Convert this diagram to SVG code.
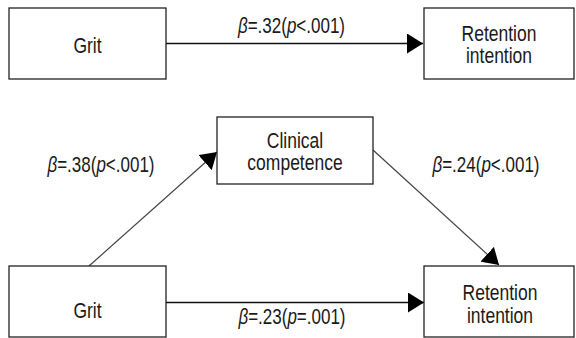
<svg xmlns="http://www.w3.org/2000/svg" width="576" height="338" viewBox="0 0 576 338">
<style>
.box{fill:#fff;stroke:#222;stroke-width:1.3}
.t{font-family:"Liberation Sans",Arial,sans-serif;font-size:17.5px;fill:#1a1a1a;text-anchor:middle}
.lab{font-family:"Liberation Sans",Arial,sans-serif;font-size:17px;fill:#1a1a1a;text-anchor:middle}
.i{font-style:italic}
.h{stroke:#111;stroke-width:1.6;fill:none}
.d{stroke:#444;stroke-width:1.2;fill:none}
</style>
<defs>
<marker id="ah" markerUnits="userSpaceOnUse" markerWidth="17" markerHeight="20" refX="16" refY="10" orient="auto" viewBox="0 0 17 20">
<path d="M0,0 L16,10 L0,20 z" fill="#000"/>
</marker>
</defs>
<rect width="576" height="338" fill="#fff"/>
<g id="connectors">
<line class="h" x1="166" y1="43.5" x2="423" y2="43.5" marker-end="url(#ah)"/>
<line class="d" x1="89" y1="266" x2="217" y2="152" marker-end="url(#ah)"/>
<line class="d" x1="373" y1="150" x2="499" y2="265" marker-end="url(#ah)"/>
<line class="h" x1="166" y1="302.5" x2="424" y2="302.5" marker-end="url(#ah)"/>
<text class="lab" transform="translate(291.5,33) scale(1,1.25)"><tspan class="i">β</tspan>=.32(<tspan class="i">p</tspan>&lt;.001)</text>
<text class="lab" transform="translate(101,171.5) scale(1,1.25)"><tspan class="i">β</tspan>=.38(<tspan class="i">p</tspan>&lt;.001)</text>
<text class="lab" transform="translate(486,171.5) scale(1,1.25)"><tspan class="i">β</tspan>=.24(<tspan class="i">p</tspan>&lt;.001)</text>
<text class="lab" transform="translate(292,323.5) scale(1,1.25)"><tspan class="i">β</tspan>=.23(<tspan class="i">p</tspan>=.001)</text>
</g>
<g id="grit-top">
<rect class="box" x="9" y="8" width="157" height="71"/>
<text class="t" transform="translate(87.5,53) scale(1,1.25)">Grit</text>
</g>
<g id="retention-top">
<rect class="box" x="424" y="8" width="150" height="71"/>
<text class="t" transform="translate(499,41) scale(1,1.25)">Retention</text>
<text class="t" transform="translate(499,63) scale(1,1.25)">intention</text>
</g>
<g id="clinical">
<rect class="box" x="217" y="117" width="156" height="67"/>
<text class="t" transform="translate(295,148) scale(1,1.25)">Clinical</text>
<text class="t" transform="translate(295,170) scale(1,1.25)">competence</text>
</g>
<g id="grit-bottom">
<rect class="box" x="9" y="266" width="157" height="71"/>
<text class="t" transform="translate(87.5,318) scale(1,1.25)">Grit</text>
</g>
<g id="retention-bottom">
<rect class="box" x="424" y="266" width="150" height="71"/>
<text class="t" transform="translate(500,300) scale(1,1.25)">Retention</text>
<text class="t" transform="translate(500,323) scale(1,1.25)">intention</text>
</g>
</svg>
